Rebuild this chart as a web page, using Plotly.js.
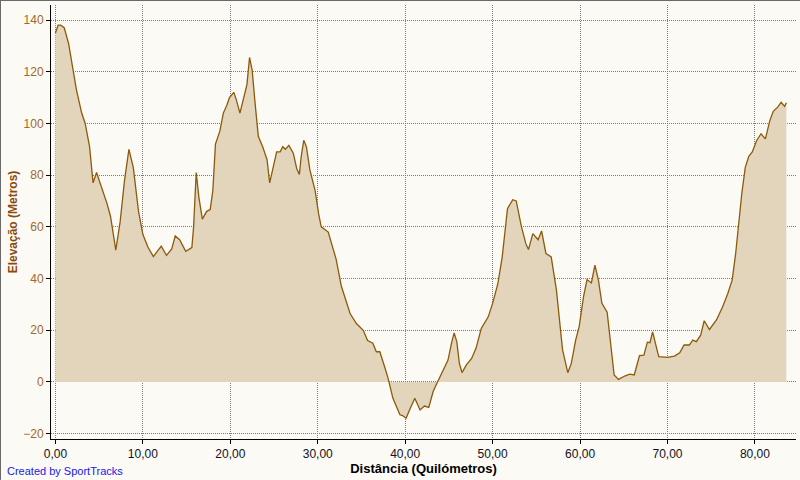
<!DOCTYPE html>
<html>
<head>
<meta charset="utf-8">
<script src="https://cdn.plot.ly/plotly-3.0.1.min.js"></script>
<style>
  html, body { margin: 0; padding: 0; background: #fbfaf5; }
  #chart { width: 799px; height: 479px; border-left: 1px solid #6a6a6a; border-top: 1px solid #6a6a6a; }
</style>
</head>
<body>
<div id="chart"></div>
<script>
// Distance (km)
const distanceKm = [
  0.0, 0.3, 0.6, 1.0, 1.5, 2.0, 2.4, 3.0, 3.4, 3.9, 4.3, 4.7, 5.3, 5.9, 6.3, 6.9, 7.4, 7.9, 8.4, 8.9,
  9.5, 10.0, 10.6, 11.2, 11.75, 12.1, 12.7, 13.3, 13.7, 14.2, 14.9, 15.6, 15.8, 16.1, 16.4, 16.8, 17.3, 17.7, 18.0, 18.3,
  18.8, 19.2, 19.6, 19.9, 20.4, 20.7, 21.1, 21.5, 21.9, 22.2, 22.5, 22.8, 23.2, 23.7, 24.2, 24.5, 24.9, 25.3, 25.7, 26.0,
  26.3, 26.7, 27.2, 27.6, 27.9, 28.1, 28.4, 28.7, 29.1, 29.7, 30.1, 30.4, 31.2, 31.7, 32.1, 32.7, 33.7, 34.4, 35.2, 35.7,
  36.3, 36.7, 37.1, 37.7, 38.0, 38.6, 39.4, 39.7, 40.1, 40.5, 41.1, 41.7, 42.2, 42.7, 43.2, 43.7, 44.3, 44.9, 45.3, 45.6,
  45.9, 46.2, 46.5, 47.0, 47.6, 48.1, 48.7, 49.5, 50.0, 50.6, 51.1, 51.5, 51.7, 52.3, 52.7, 53.3, 53.8, 54.1, 54.6, 55.2,
  55.6, 56.1, 56.7, 57.3, 57.7, 58.0, 58.6, 59.0, 59.5, 59.9, 60.4, 60.8, 61.3, 61.7, 62.1, 62.5, 63.1, 63.6, 63.9, 64.4,
  65.1, 65.7, 66.2, 66.8, 67.3, 67.7, 68.0, 68.3, 69.0, 70.0, 70.8, 71.4, 71.9, 72.5, 72.9, 73.3, 73.8, 74.2, 74.8, 75.6,
  76.3, 76.9, 77.4, 77.8, 78.1, 78.5, 78.9, 79.3, 79.7, 80.2, 80.7, 81.2, 81.7, 82.1, 82.6, 83.0, 83.4, 83.6
];
// Elevation (m)
const elevationM = [
  135, 138, 138, 137, 131, 120, 113, 104, 100, 91, 77, 81, 75, 69, 64, 51, 62, 78, 90, 83,
  66, 57, 52, 48.5, 51, 52.5, 49, 51.5, 56.5, 55, 50.5, 52, 60, 81, 71.5, 63, 66, 66.7, 74, 92,
  97, 104, 107, 110, 112, 109, 104, 109, 115, 125.5, 120.5, 109, 95, 91, 86, 77, 83, 89, 89, 91,
  90, 91.5, 88.5, 82.5, 80.3, 87, 93.5, 91, 82, 74, 65, 60, 58, 52, 47.5, 37, 26.5, 22.7, 20, 16,
  15, 11.7, 11.7, 5.3, 2, -6.3, -12.7, -13, -14, -10.8, -6.3, -10.8, -9.3, -9.8, -3.7, 0, 4.6, 8.5, 15, 19,
  15.6, 7.2, 3.6, 6.6, 9.1, 13, 20.7, 25.2, 30.4, 38, 48.4, 60, 67, 70.5, 70, 60, 53.5, 51.2, 57.4, 55,
  58.4, 49.7, 48.4, 35.5, 22.7, 12.4, 3.6, 7.2, 16.2, 21.4, 33, 39.6, 38.3, 45.2, 39.4, 30.4, 27, 12.4, 2.7, 1,
  2.3, 3, 2.7, 10.2, 10.4, 15.4, 15.2, 19.4, 9.8, 9.5, 10, 11.3, 14.3, 14.3, 16.2, 15.6, 18.1, 23.7, 20.3, 24,
  29, 34.2, 39.4, 49.7, 60, 72.9, 83, 87.3, 89, 93.4, 96, 94, 101, 104.7, 106.3, 108.2, 106.6, 108
];
const xTickVals = [0, 10, 20, 30, 40, 50, 60, 70, 80];
const yTickVals = [-20, 0, 20, 40, 60, 80, 100, 120, 140];

const trace = {
  x: distanceKm,
  y: elevationM,
  type: 'scatter',
  mode: 'lines',
  fill: 'tozeroy',
  fillcolor: '#e3d4bc',
  line: { color: '#8c5a0a', width: 1.3 },
  hoverinfo: 'x+y'
};

const gridCommon = {
  showgrid: true,
  gridcolor: '#7a7a7a',
  gridwidth: 1,
  griddash: '1px,1px',
  zeroline: false,
  showline: true,
  linecolor: '#000000',
  linewidth: 1,
  ticks: 'outside',
  ticklen: 4,
  tickcolor: '#000000',
  tickwidth: 1
};

const layout = {
  width: 799,
  height: 479,
  paper_bgcolor: '#fbfaf5',
  plot_bgcolor: '#fbfaf5',
  separators: ',.',
  margin: { l: 50, r: 4, t: 4, b: 41 },
  showlegend: false,
  font: { family: 'Liberation Sans, Arial, sans-serif', size: 12, color: '#000' },
  xaxis: Object.assign({}, gridCommon, {
    range: [-0.51, 84.7],
    tickvals: xTickVals,
    tickformat: '.2f',
    tickfont: { family: 'Liberation Sans, Arial, sans-serif', size: 12, color: '#111122' },
    title: { text: 'Distância (Quilómetros)', font: { family: 'Liberation Sans, Arial, sans-serif', size: 13, color: '#000', weight: 'bold' }, standoff: 3 },
    mirror: false
  }),
  yaxis: Object.assign({}, gridCommon, {
    range: [-22.05, 145.8],
    tickvals: yTickVals,
    tickfont: { family: 'Liberation Sans, Arial, sans-serif', size: 12, color: '#a0692a' },
    title: { text: 'Elevação (Metros)', font: { family: 'Liberation Sans, Arial, sans-serif', size: 12, color: '#8b4a0b', weight: 'bold' }, standoff: 3 },
    mirror: false
  }),
  annotations: [{
    text: 'Created by SportTracks',
    xref: 'paper', yref: 'paper',
    x: -0.0617, y: -0.0737,
    xanchor: 'left', yanchor: 'middle',
    showarrow: false,
    font: { family: 'Liberation Sans, Arial, sans-serif', size: 11, color: '#2020e8' }
  }]
};

Plotly.newPlot('chart', [trace], layout, { displayModeBar: false, staticPlot: true });
</script>
</body>
</html>
